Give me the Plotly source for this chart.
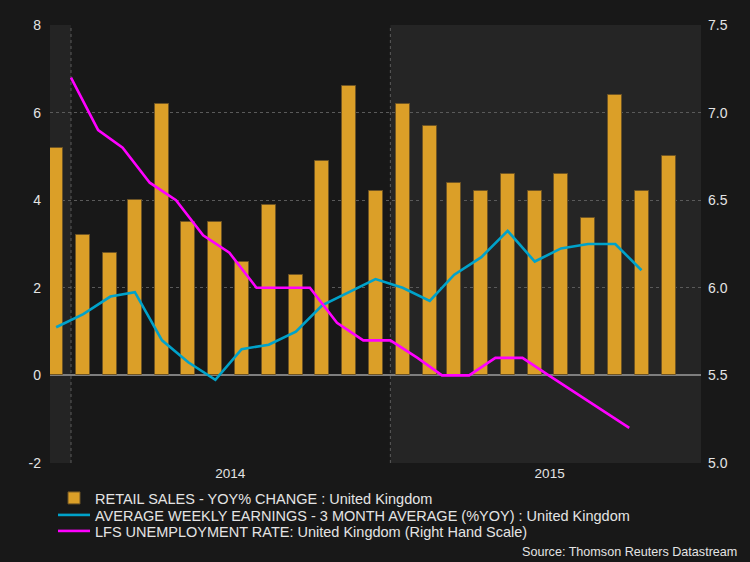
import plotly.graph_objects as go

# ---- data ----
retail_months = ["2013-12-15", "2014-01-15", "2014-02-15", "2014-03-15", "2014-04-15", "2014-05-15",
                 "2014-06-15", "2014-07-15", "2014-08-15", "2014-09-15", "2014-10-15", "2014-11-15",
                 "2014-12-15", "2015-01-15", "2015-02-15", "2015-03-15", "2015-04-15", "2015-05-15",
                 "2015-06-15", "2015-07-15", "2015-08-15", "2015-09-15", "2015-10-15", "2015-11-15"]
retail_sales = [5.2, 3.2, 2.8, 4.0, 6.2, 3.5, 3.5, 2.6, 3.9, 2.3, 4.9, 6.6,
                4.2, 6.2, 5.7, 4.4, 4.2, 4.6, 4.2, 4.6, 3.6, 6.4, 4.2, 5.0]

earnings_months = retail_months[:23]
earnings = [1.1, 1.4, 1.8, 1.9, 0.8, 0.3, -0.1, 0.6, 0.7, 1.0, 1.6, 1.9,
            2.2, 2.0, 1.7, 2.3, 2.7, 3.3, 2.6, 2.9, 3.0, 3.0, 2.4]

unemp_months = ["2014-01-01", "2014-02-01", "2014-03-01", "2014-04-01", "2014-05-01", "2014-06-01",
                "2014-07-01", "2014-08-01", "2014-09-01", "2014-10-01", "2014-11-01", "2014-12-01",
                "2015-01-01", "2015-02-01", "2015-03-01", "2015-04-01", "2015-05-01", "2015-06-01",
                "2015-07-01", "2015-08-01", "2015-09-01", "2015-10-01"]
unemployment = [7.2, 6.9, 6.8, 6.6, 6.5, 6.3, 6.2, 6.0, 6.0, 6.0, 5.8, 5.7,
                5.7, 5.6, 5.5, 5.5, 5.6, 5.6, 5.5, 5.4, 5.3, 5.2]

year_tick_vals = ["2014-07-02", "2015-07-02"]
year_tick_text = ["2014", "2015"]
year_starts = ["2014-01-01", "2015-01-01"]

left_tick_vals = [-2, 0, 2, 4, 6, 8]
left_tick_text = ["-2", "0", "2", "4", "6", "8"]

names = ["RETAIL SALES - YOY% CHANGE : United Kingdom",
         "AVERAGE WEEKLY EARNINGS - 3 MONTH AVERAGE (%YOY) : United Kingdom",
         "LFS UNEMPLOYMENT RATE: United Kingdom (Right Hand Scale)"]

x_range = ["2013-12-08", "2015-12-22"]

FONT = "Liberation Sans, Arial, sans-serif"
TXT = "#E4E4E4"

fig = go.Figure()
fig.add_trace(go.Bar(
    x=retail_months, y=retail_sales, name=names[0], legend="legend",
    width=16 * 86400000,
    marker=dict(color="#DB9F28", line=dict(color="#6E5424", width=1)),
))
fig.add_trace(go.Scatter(
    x=earnings_months, y=earnings, name=names[1], mode="lines", legend="legend2",
    line=dict(color="#00A2CA", width=2.6),
))
fig.add_trace(go.Scatter(
    x=unemp_months, y=unemployment, name=names[2], mode="lines", yaxis="y2", legend="legend3",
    line=dict(color="#FF00FF", width=2.6),
))

shapes = [
    dict(type="rect", xref="x", yref="paper", x0=x_range[0], x1=year_starts[0], y0=0, y1=1,
         fillcolor="#242424", line=dict(width=0), layer="below"),
    dict(type="rect", xref="x", yref="paper", x0=year_starts[1], x1=x_range[1], y0=0, y1=1,
         fillcolor="#252525", line=dict(width=0), layer="below"),
]
for d in year_starts:
    shapes.append(dict(type="line", xref="x", yref="paper", x0=d, x1=d, y0=0, y1=1,
                       line=dict(color="#5A5A5A", width=1, dash="dot"), layer="below"))


def leg(ycenter_px):
    return dict(orientation="v", x=3 / 651.0, xanchor="left",
                y=(463 - ycenter_px) / 438.0, yanchor="middle",
                bgcolor="rgba(0,0,0,0)", font=dict(size=14.5, color=TXT, family=FONT),
                itemwidth=32)


fig.update_layout(
    width=750, height=562,
    margin=dict(l=50, r=49, t=25, b=99),
    paper_bgcolor="#181818", plot_bgcolor="#181818",
    font=dict(family=FONT, color=TXT, size=13.5),
    bargap=0,
    shapes=shapes,
    xaxis=dict(type="date", range=x_range, tickvals=year_tick_vals, ticktext=year_tick_text,
               showgrid=False, zeroline=False, showline=False, ticks="",
               tickfont=dict(size=13.5, color=TXT)),
    yaxis=dict(range=[-2, 8], tickvals=left_tick_vals, ticktext=left_tick_text,
               showgrid=True, gridcolor="#5A5A5A",
               griddash="dot", gridwidth=1, zeroline=True, zerolinecolor="#7E7E7E",
               zerolinewidth=2, ticks="", tickfont=dict(size=14, color=TXT),
               ticklabelstandoff=8),
    yaxis2=dict(range=[5.0, 7.5], dtick=0.5, tick0=5.0, tickformat=".1f", overlaying="y",
                side="right", showgrid=False, zeroline=False, ticks="",
                tickfont=dict(size=14, color=TXT), ticklabelstandoff=6),
    legend=leg(498),
    legend2=leg(515),
    legend3=leg(531),
    showlegend=True,
    annotations=[dict(text="Source: Thomson Reuters Datastream", xref="paper", yref="paper",
                      x=(739 - 50) / 651.0, y=(463 - 552) / 438.0, xanchor="right",
                      yanchor="middle", showarrow=False,
                      font=dict(size=12.6, color=TXT, family=FONT))],
)

fig.write_html("out.html", config={"displayModeBar": False},
               post_script="document.body.style.margin='0px';")
